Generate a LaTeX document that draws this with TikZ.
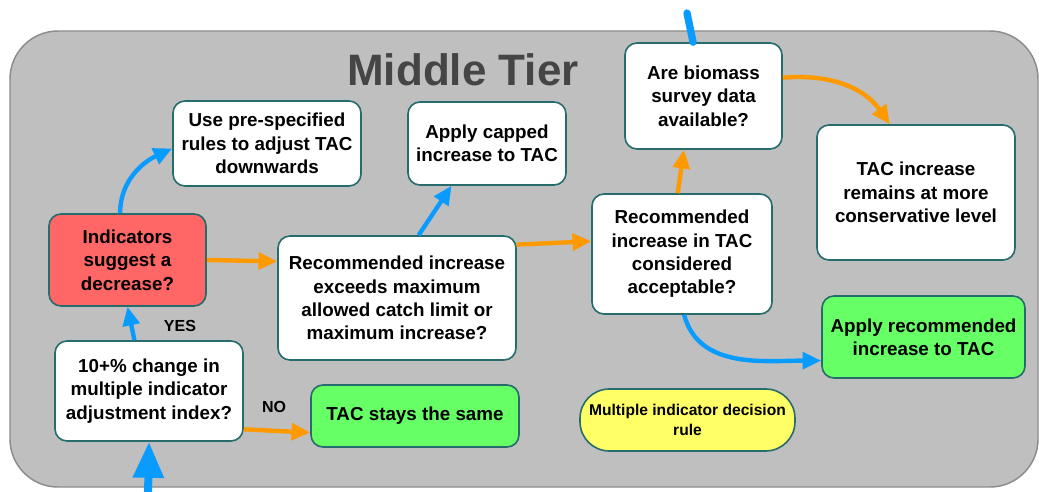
\documentclass[tikz,border=0pt]{standalone}
\usepackage{fontspec}
\setmainfont{Liberation Sans}
\usetikzlibrary{arrows.meta}
\definecolor{tierbg}{RGB}{191,191,191}
\definecolor{tieredge}{RGB}{140,140,140}
\definecolor{boxedge}{RGB}{38,108,108}
\definecolor{flowblue}{RGB}{10,155,255}
\definecolor{floworange}{RGB}{255,153,0}
\definecolor{redfill}{RGB}{255,102,102}
\definecolor{greenfill}{RGB}{102,255,102}
\definecolor{yellowfill}{RGB}{255,255,102}
\definecolor{titlegray}{RGB}{69,69,69}

\begin{document}
\begin{tikzpicture}[x=0.75pt,y=0.75pt,yscale=-1,xscale=1,
  box/.style={draw=boxedge,line width=1.2pt,fill=white,rounded corners=9pt,align=center,inner sep=2pt,font=\bfseries\fontsize{14.1}{17.5}\selectfont},
  redbox/.style={box,fill=redfill},
  greenbox/.style={box,fill=greenfill},
  yellowbox/.style={box,fill=yellowfill,rounded corners=22pt,font=\bfseries\fontsize{11.7}{15.5}\selectfont},
  blueflow/.style={draw=flowblue,line width=3.3pt,-{Triangle[length=14pt,width=12.5pt]}},
  orangeflow/.style={draw=floworange,line width=3.3pt,-{Triangle[length=14pt,width=12.5pt]}},
  answer/.style={font=\bfseries\fontsize{12}{14}\selectfont,inner sep=0.75pt}]
\useasboundingbox (0,0) rectangle (1039,492);

%Shape: Tier panel
\draw [draw=tieredge,fill=tierbg,line width=1.1pt,rounded corners=36pt] (10,31) rectangle (1038,487);
% Title
\node (title) at (463,70) [font=\bfseries\fontsize{33}{36}\selectfont,text=titlegray] {Middle Tier};

% Boxes
\node (rules) at (267,143.5) [box,minimum width=141pt,minimum height=63.75pt] {Use pre-specified\\rules to adjust TAC\\downwards};
\node (capped) at (487,143.5) [box,minimum width=118.5pt,minimum height=62.25pt] {Apply capped\\increase to TAC};
\node (biomass) at (703.5,96) [box,minimum width=117.75pt,minimum height=79.5pt] {Are biomass\\survey data\\available?};
\node (conserv) at (916,192.5) [box,minimum width=148.5pt,minimum height=101.25pt] {TAC increase\\remains at more\\conservative level};
\node (decrease) at (127.5,260) [redbox,minimum width=117.75pt,minimum height=69pt] {Indicators\\suggest a\\decrease?};
\node (exceeds) at (397,298) [box,minimum width=178.5pt,minimum height=93pt] {Recommended increase\\exceeds maximum\\allowed catch limit or\\maximum increase?};
\node (accept) at (682,254) [box,minimum width=135pt,minimum height=90pt] {Recommended\\increase in TAC\\considered\\acceptable?};
\node (applyrec) at (923.5,337) [greenbox,minimum width=152.25pt,minimum height=61.5pt] {Apply recommended\\increase to TAC};
\node (change) at (149,391) [box,minimum width=141pt,minimum height=75pt] {10+\% change in\\multiple indicator\\adjustment index?};
\node (same) at (415,416) [greenbox,minimum width=156pt,minimum height=46.5pt] {TAC stays the same};
\node (legend) at (687.5,420) [yellowbox,minimum width=161.25pt,minimum height=46.5pt] {Multiple indicator decision\\rule};

% Answer labels
\node (yes) at (180,326) [answer] {YES};
\node (no) at (274,407) [answer] {NO};

% Entry lines
\coordinate (fromtop) at (687,13);
\coordinate (frombelow) at (148,496);
\draw [draw=flowblue,line width=5.5pt,line cap=round] (fromtop) -- (biomass.101);
\draw [draw=flowblue,line width=6pt,-{Triangle[length=27pt,width=22pt]}] (frombelow) -- (change.south);

% Connectors (angles flipped by yscale=-1)
\draw [blueflow] (change.106) -- (decrease.south);
\draw [orangeflow] (change.338) -- (same.189);
\draw [blueflow] (decrease.99) to[out=-90,in=155] (rules.183);
\draw [orangeflow] (decrease.east) -- (exceeds.163);
\draw [blueflow] (exceeds.71) -- (capped.230);
\draw [orangeflow] (exceeds.24) -- (accept.172);
\draw [orangeflow] (accept.94) -- (biomass.250);
\draw [orangeflow] (biomass.13) to[out=-5,in=-125] (conserv.111);
\draw [blueflow] (accept.272) to[out=75,in=180] (applyrec.193);
\end{tikzpicture}
\end{document}
